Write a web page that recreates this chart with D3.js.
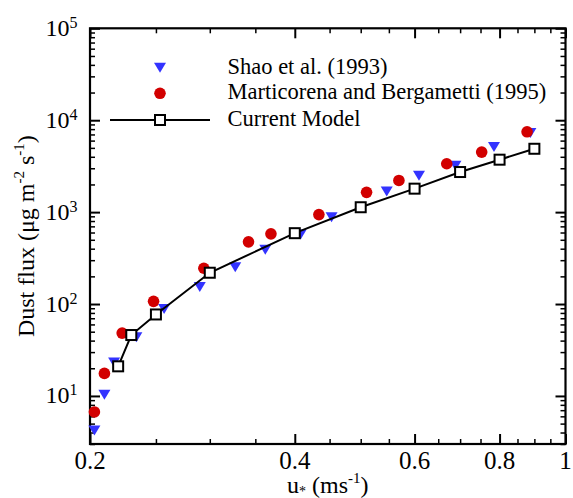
<!DOCTYPE html>
<html>
<head>
<meta charset="utf-8">
<script src="https://cdn.jsdelivr.net/npm/d3@7"></script>
<style>
    body { margin: 0; background: #fff; }
    svg { display: block; font-family: "Liberation Serif", "Times New Roman", serif; }
</style>
</head>
<body>
<div id="chart"></div>
<script>
// Shao et al. (1993)
let shaoU = [0.203, 0.21, 0.217, 0.234, 0.257, 0.29, 0.327, 0.362, 0.408, 0.453, 0.546, 0.609, 0.689, 0.785, 0.888];
let shaoFlux = [4.2, 10.3, 23.1, 43.4, 88.5, 153, 251, 389, 570, 878, 1680, 2490, 3200, 5100, 7240];

// Marticorena and Bergametti (1995)
let margU = [0.203, 0.21, 0.223, 0.248, 0.294, 0.342, 0.369, 0.434, 0.51, 0.569, 0.669, 0.753, 0.878];
let margFlux = [6.7, 17.6, 48.3, 107, 245, 475, 580, 940, 1640, 2210, 3360, 4500, 7480];

// Current model
let modelU = [0.22, 0.23, 0.25, 0.3, 0.4, 0.5, 0.6, 0.7, 0.8, 0.9];
let modelFlux = [21, 46, 77, 219, 590, 1130, 1800, 2730, 3720, 4890];

let xTicks = [0.2, 0.4, 0.6, 0.8, 1];
let xTickLabels = ["0.2", "0.4", "0.6", "0.8", "1"];
let yTicks = [1e1, 1e2, 1e3, 1e4, 1e5];
let yTickExponents = ["1", "2", "3", "4", "5"];
let legendLabels = ["Shao et al. (1993)", "Marticorena and Bergametti (1995)", "Current Model"];

let width = 573, height = 498;
let box = {left: 90, right: 565.5, top: 28.3, bottom: 444};

let blue = "#3333ff", red = "#d20000";

let svg = d3.select("#chart")
    .append("svg")
    .attr("width", width)
    .attr("height", height);

let x = d3.scaleLog().domain([0.2, 1]).range([box.left, box.right]);
let y = d3.scaleLog().domain([3, 1e5]).range([box.bottom, box.top]);

// minor tick positions
let xMinor = d3.range(0.25, 1, 0.05).filter(v => Math.abs(v * 10 % 2) > 0.01 && Math.abs(v * 10 % 2 - 2) > 0.01);
let yMinor = d3.range(0, 5).flatMap(e => d3.range(2, 10).map(m => m * Math.pow(10, e))).filter(v => v >= 3 && v < 1e5);

function drawTicks(axisFn, scale, values, size, strokeWidth, transform) {
    svg.append("g")
        .attr("transform", transform)
        .call(axisFn(scale).tickValues(values).tickSize(size).tickFormat(""))
        .call(g => g.select(".domain").remove())
        .call(g => g.selectAll("text").remove())
        .selectAll("line")
        .attr("stroke", "#000")
        .attr("stroke-width", strokeWidth);
}

drawTicks(d3.axisBottom, x, xTicks, -10, 2, "translate(0," + box.bottom + ")");
drawTicks(d3.axisBottom, x, xMinor, -5, 1.5, "translate(0," + box.bottom + ")");
drawTicks(d3.axisTop, x, xTicks, -10, 2, "translate(0," + box.top + ")");
drawTicks(d3.axisTop, x, xMinor, -5, 1.5, "translate(0," + box.top + ")");
drawTicks(d3.axisLeft, y, yTicks, -10, 2, "translate(" + box.left + ",0)");
drawTicks(d3.axisLeft, y, yMinor, -5, 1.5, "translate(" + box.left + ",0)");
drawTicks(d3.axisRight, y, yTicks, -10, 2, "translate(" + box.right + ",0)");
drawTicks(d3.axisRight, y, yMinor, -5, 1.5, "translate(" + box.right + ",0)");

// frame
svg.append("rect")
    .attr("x", box.left)
    .attr("y", box.top)
    .attr("width", box.right - box.left)
    .attr("height", box.bottom - box.top)
    .attr("fill", "none")
    .attr("stroke", "#000")
    .attr("stroke-width", 2.2);

// x tick labels
svg.selectAll(".xlabel")
    .data(xTicks)
    .enter().append("text")
    .attr("class", "xlabel")
    .attr("x", d => x(d))
    .attr("y", box.bottom + 25)
    .attr("text-anchor", "middle")
    .attr("font-size", "25px")
    .text((d, i) => xTickLabels[i]);

// y tick labels (10^n)
let yLabels = svg.selectAll(".ylabel")
    .data(yTicks)
    .enter().append("text")
    .attr("class", "ylabel")
    .attr("x", box.left - 12.5)
    .attr("y", d => y(d) + 7.5)
    .attr("text-anchor", "end")
    .attr("font-size", "24px");
yLabels.append("tspan").text("10");
yLabels.append("tspan")
    .attr("dy", -8)
    .attr("font-size", "16px")
    .text((d, i) => yTickExponents[i]);

// axis titles
let xTitle = svg.append("text")
    .attr("x", (box.left + box.right) / 2)
    .attr("y", 493)
    .attr("text-anchor", "middle")
    .attr("font-size", "24px");
xTitle.append("tspan").text("u");
xTitle.append("tspan").attr("font-size", "14px").attr("dy", 3).text("*");
xTitle.append("tspan").attr("dy", -3).text(" (ms");
xTitle.append("tspan").attr("font-size", "15px").attr("dy", -10).text("-1");
xTitle.append("tspan").attr("dy", 10).text(")");

let yTitle = svg.append("text")
    .attr("transform", "translate(34," + ((box.top + box.bottom) / 2) + ") rotate(-90)")
    .attr("text-anchor", "middle")
    .attr("font-size", "24px");
yTitle.append("tspan").text("Dust flux (\u03bcg m");
yTitle.append("tspan").attr("font-size", "15px").attr("dy", -10).text("-2");
yTitle.append("tspan").attr("dy", 10).text(" s");
yTitle.append("tspan").attr("font-size", "15px").attr("dy", -10).text("-1");
yTitle.append("tspan").attr("dy", 10).text(")");

// markers
function triangleDown(cx, cy) {
    let w = 12, h = 10;
    return "M" + (cx - w / 2) + "," + (cy - h / 2) + "L" + (cx + w / 2) + "," + (cy - h / 2) + "L" + cx + "," + (cy + h / 2) + "Z";
}

let plot = svg.append("g");

plot.selectAll(".shao")
    .data(d3.zip(shaoU, shaoFlux))
    .enter().append("path")
    .attr("class", "shao")
    .attr("d", d => triangleDown(x(d[0]), y(d[1])))
    .attr("fill", blue);

plot.selectAll(".marg")
    .data(d3.zip(margU, margFlux))
    .enter().append("circle")
    .attr("class", "marg")
    .attr("cx", d => x(d[0]))
    .attr("cy", d => y(d[1]))
    .attr("r", 5.8)
    .attr("fill", red);

let line = d3.line()
    .x(d => x(d[0]))
    .y(d => y(d[1]));

plot.append("path")
    .datum(d3.zip(modelU, modelFlux))
    .attr("d", line)
    .attr("fill", "none")
    .attr("stroke", "#000")
    .attr("stroke-width", 2);

plot.selectAll(".model")
    .data(d3.zip(modelU, modelFlux))
    .enter().append("rect")
    .attr("class", "model")
    .attr("x", d => x(d[0]) - 5)
    .attr("y", d => y(d[1]) - 5)
    .attr("width", 10)
    .attr("height", 10)
    .attr("fill", "#fff")
    .attr("stroke", "#000")
    .attr("stroke-width", 2);

// legend
let legend = svg.append("g");
let legendX = 160, legendRows = [67.7, 93.3, 120];

legend.append("path")
    .attr("d", triangleDown(legendX, legendRows[0]))
    .attr("fill", blue);
legend.append("circle")
    .attr("cx", legendX)
    .attr("cy", legendRows[1])
    .attr("r", 5.8)
    .attr("fill", red);
legend.append("line")
    .attr("x1", 110).attr("x2", 210)
    .attr("y1", legendRows[2]).attr("y2", legendRows[2])
    .attr("stroke", "#000")
    .attr("stroke-width", 2);
legend.append("rect")
    .attr("x", legendX - 5)
    .attr("y", legendRows[2] - 5)
    .attr("width", 10)
    .attr("height", 10)
    .attr("fill", "#fff")
    .attr("stroke", "#000")
    .attr("stroke-width", 2);

legend.selectAll(".legtext")
    .data(legendLabels)
    .enter().append("text")
    .attr("class", "legtext")
    .attr("x", 227.5)
    .attr("y", (d, i) => legendRows[i] + 6)
    .attr("font-size", "22.5px")
    .text(d => d);
</script>
</body>
</html>
